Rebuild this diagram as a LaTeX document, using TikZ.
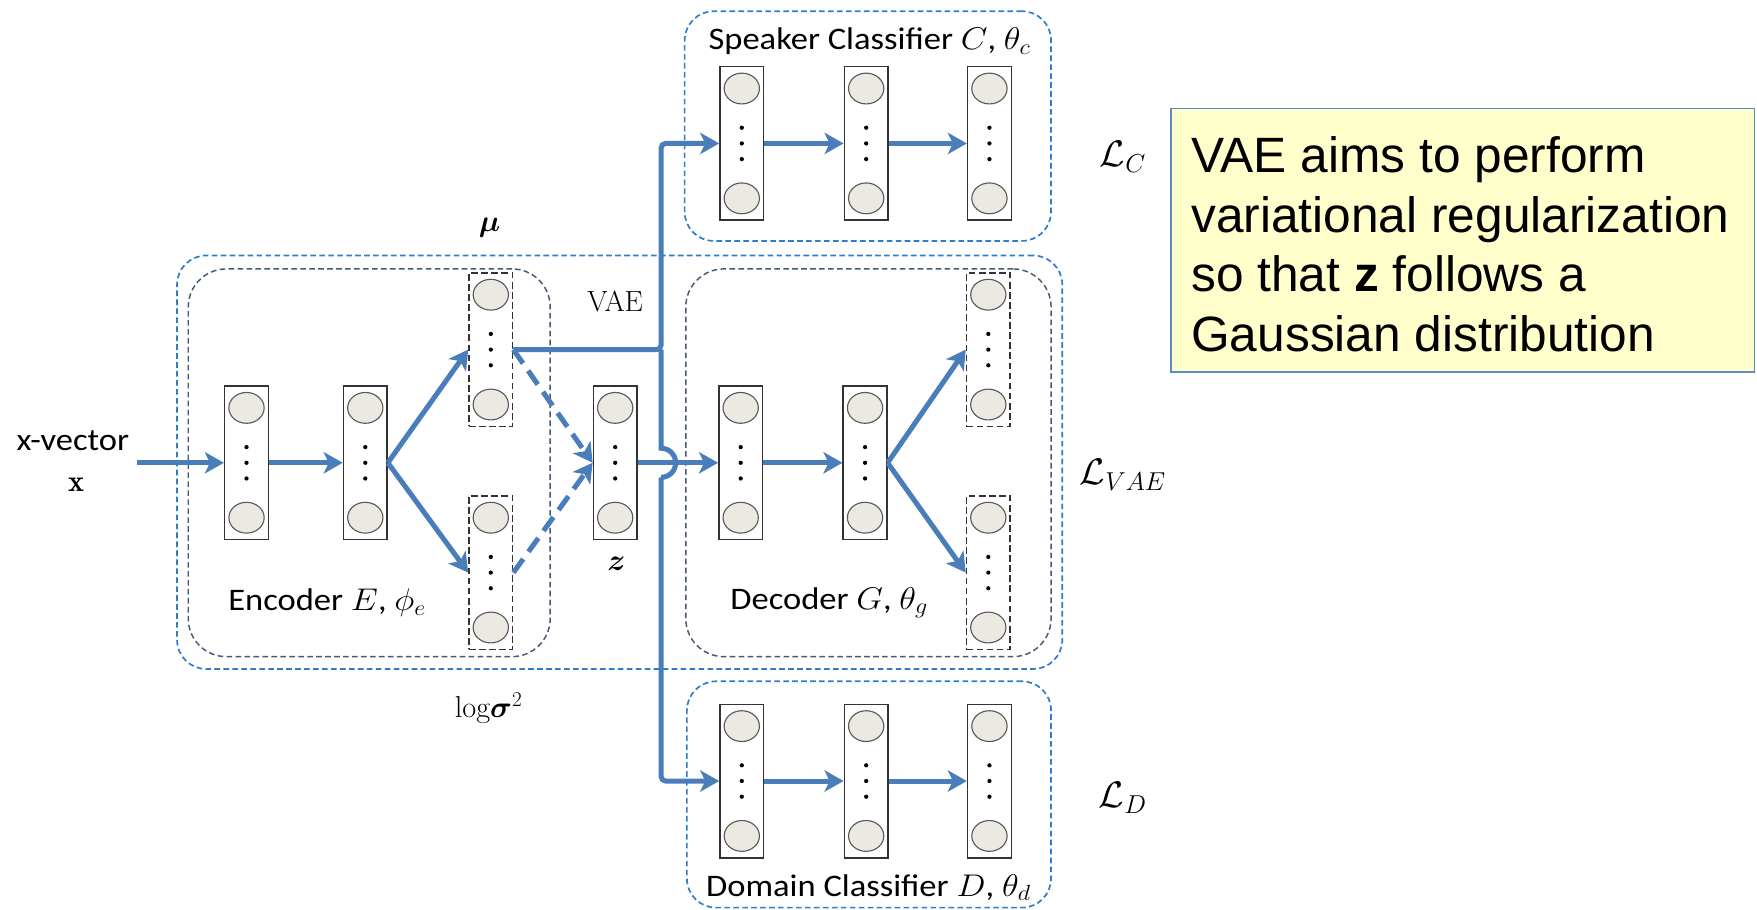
\RequirePackage{fix-cm}
\documentclass[tikz,border=0pt]{standalone}
\usepackage{amsmath}
\usepackage{bm}
\usepackage{graphicx}
\usepackage{fontspec}
\usetikzlibrary{arrows.meta,shapes.geometric,calc}
\newfontfamily\carl{Carlito}
\newfontfamily\arialf{Liberation Sans}
\definecolor{arrblue}{RGB}{74,126,187}
\definecolor{boxblue}{RGB}{46,125,205}
\definecolor{slate}{RGB}{70,88,115}
\definecolor{neur}{RGB}{236,233,226}
\definecolor{noteyel}{RGB}{255,255,204}
\definecolor{noteedge}{RGB}{91,139,201}
\newcommand\wide[1]{\scalebox{1.1}[1]{#1}}
\tikzset{
 layerbox/.style={rectangle, draw=black!80, line width=1.3pt, fill=white, minimum width=39pt, minimum height=137pt, inner sep=0},
 dlayerbox/.style={layerbox, dash pattern=on 6pt off 3pt},
 neuron/.style={ellipse, draw=black!65, line width=1pt, fill=neur, minimum width=31.5pt, minimum height=27.5pt, inner sep=0},
 conn/.style={draw=arrblue, line width=4.5pt},
 arr/.style={conn, -{Stealth[length=17pt,width=19pt,inset=4.5pt]}},
 darr/.style={arr, dash pattern=on 15pt off 8pt},
 outerbox/.style={rectangle, draw=boxblue, line width=1.5pt, dash pattern=on 5pt off 3pt, rounded corners=26pt, inner sep=0},
 innerbox/.style={rectangle, draw=slate, line width=1.3pt, dash pattern=on 5pt off 3pt, rounded corners=34pt, inner sep=0},
 lbl/.style={font=\carl\fontsize{28}{32}\selectfont, inner sep=0},
 mlbl/.style={font=\fontsize{27}{32}\selectfont, inner sep=0},
 losslbl/.style={font=\fontsize{33}{38}\selectfont, inner sep=0},
}
\newcommand\mklayer[4]{%
  \node[#4] (#1) at (#2,#3) {};
  \node[neuron] (#1t) at ([yshift=49pt]#1.center) {};
  \node[neuron] (#1b) at ([yshift=-49pt]#1.center) {};
  \foreach \dy in {-14,0,14} \fill ([yshift=\dy pt]#1.center) circle[radius=1.9pt];
}
\begin{document}
\begin{tikzpicture}[x=1pt,y=-1pt]
\fill[white] (0,0) rectangle (1568,812);
\useasboundingbox (0,0) rectangle (1568,812);

% cut-off title letter
\node[font=\arialf\fontsize{56}{60}\selectfont, anchor=base, inner sep=0] (title) at (459,-31.5) {g};

% container boxes
\node[outerbox, minimum width=327pt, minimum height=205pt] (spk) at (774.5,112.5) {};
\node[outerbox, minimum width=790pt, minimum height=369pt] (vae) at (553,412.5) {};
\node[innerbox, minimum width=323pt, minimum height=346pt] (enc) at (329.5,413) {};
\node[innerbox, minimum width=326pt, minimum height=346pt] (dec) at (775,413) {};
\node[outerbox, minimum width=325pt, minimum height=202pt] (dom) at (775.5,709) {};

% layers
\mklayer{e1}{220}{413}{layerbox}
\mklayer{e2}{326}{413}{layerbox}
\mklayer{mu}{438}{312}{dlayerbox}
\mklayer{lv}{438}{511}{dlayerbox}
\mklayer{z}{549}{413}{layerbox}
\mklayer{d1}{661}{413}{layerbox}
\mklayer{d2}{772}{413}{layerbox}
\mklayer{o1}{882}{312}{dlayerbox}
\mklayer{o2}{882}{511}{dlayerbox}
\mklayer{s1}{662}{128}{layerbox}
\mklayer{s2}{773}{128}{layerbox}
\mklayer{s3}{883}{128}{layerbox}
\mklayer{m1}{662}{697}{layerbox}
\mklayer{m2}{773}{697}{layerbox}
\mklayer{m3}{883}{697}{layerbox}

% labels
\node[lbl] (xv) at (65,393) {\wide{x-vector}};
\coordinate (xin) at (122,413);
\node[mlbl] (xx) at (68,433) {$\mathbf{x}$};
\node[mlbl] (mulbl) at (437,203) {$\bm{\mu}$};
\node[mlbl] (lvlbl) at (436,632) {$\mathrm{log}\bm{\sigma}^2$};
\node[font=\fontsize{26}{30}\selectfont, inner sep=0] (vaelbl) at (549,269) {VAE};
\node[mlbl] (zlbl) at (550,503) {$\bm{z}$};
\node[lbl] (enclbl) at (292,538) {\wide{Encoder $E$, $\phi_e$}};
\node[lbl] (declbl) at (740,538) {\wide{Decoder $G$, $\theta_g$}};
\node[lbl] (spklbl) at (776,37) {\wide{Speaker Classifier $C$, $\theta_c$}};
\node[lbl] (domlbl) at (775,792) {\wide{Domain Classifier $D$, $\theta_d$}};
\node[losslbl] (lc) at (1002,140) {$\mathcal{L}_C$};
\node[losslbl] (lvae) at (1002,424) {$\mathcal{L}_{VAE}$};
\node[losslbl] (ld) at (1002,712) {$\mathcal{L}_D$};

% note box
\node[rectangle, draw=noteedge, line width=1pt, fill=noteyel, minimum width=521pt, minimum height=235pt, inner sep=0] (note) at (1305.5,214.5) {};
\node[anchor=north west, align=left, inner sep=0, font=\arialf\fontsize{44.3}{53}\selectfont] (notetxt) at (1063,122)
 {VAE aims to perform\\variational regularization\\so that \textbf{z} follows a\\Gaussian distribution};

% connectors
\coordinate (bus) at (590,312);
\coordinate (hop) at (bus |- z.east);
\draw[arr] (xin) -- (e1.west);
\draw[arr] (e1.east) -- (e2.west);
\draw[arr] (e2.east) -- (mu.west);
\draw[arr] (e2.east) -- (lv.west);
\draw[darr] (mu.east) -- (z.west);
\draw[darr] (lv.east) -- (z.west);
\draw[arr, rounded corners=4pt] (mu.east) -- (bus) |- (s1.west);
\draw[conn] (bus) -- ([yshift=13pt]hop) arc[start angle=90, end angle=-90, radius=13pt];
\draw[arr, rounded corners=4pt] ([yshift=-13pt]hop) |- (m1.west);
\draw[arr] (z.east) -- (d1.west);
\draw[arr] (d1.east) -- (d2.west);
\draw[arr] (d2.east) -- (o1.west);
\draw[arr] (d2.east) -- (o2.west);
\draw[arr] (s1.east) -- (s2.west);
\draw[arr] (s2.east) -- (s3.west);
\draw[arr] (m1.east) -- (m2.west);
\draw[arr] (m2.east) -- (m3.west);
\end{tikzpicture}
\end{document}
